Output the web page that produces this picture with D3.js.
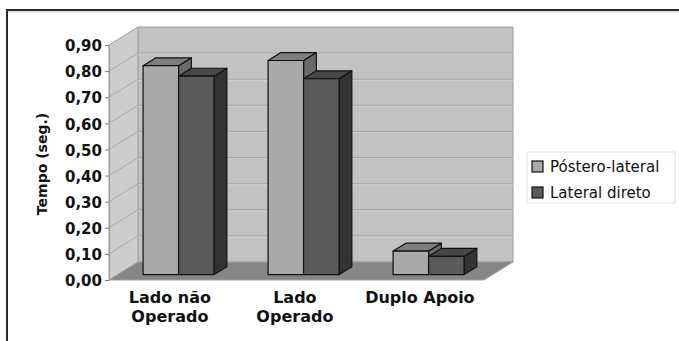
<!DOCTYPE html>
<html>
<head>
<meta charset="utf-8">
<script src="https://cdn.jsdelivr.net/npm/d3@7"></script>
<style>
  html, body { margin: 0; padding: 0; background: #fff; }
  svg { display: block; }
</style>
</head>
<body>
<svg id="chart" width="679" height="341"></svg>
<script>
// Gait timing per side, two surgical approaches
const categories = ["Lado não Operado", "Lado Operado", "Duplo Apoio"];
const categoryLines = [["Lado não", "Operado"], ["Lado", "Operado"], ["Duplo Apoio"]];
const seriesNames = ["Póstero-lateral", "Lateral direto"];
const posteroLateral = [0.80, 0.82, 0.09];
const lateralDireto = [0.76, 0.75, 0.07];
const yTickValues = [0, 0.1, 0.2, 0.3, 0.4, 0.5, 0.6, 0.7, 0.8, 0.9];
const yTitle = "Tempo (seg.)";

const seriesValues = [posteroLateral, lateralDireto];

const svg = d3.select("#chart");

// plot box (front plane) and depth offset of the 3D walls
const plotLeft = 109, plotRight = 484, plotBottom = 280, plotTop = 45;
const depthX = 29, depthY = -18;
// bars sit between these fractions of the depth
const f0 = 0.3, f1 = 0.74;

const x = d3.scaleBand().domain(categories).range([plotLeft, plotRight])
  .paddingInner(0.432).paddingOuter(0.216).align(0.47);
const xs = d3.scaleBand().domain(seriesNames).range([0, x.bandwidth()]);
const y = d3.scaleLinear().domain([0, 0.9]).range([plotBottom, plotTop]);

const barFill = {
  "Póstero-lateral": { front: "#a9a9a9", top: "#7e7e7e", side: "#6a6a6a" },
  "Lateral direto": { front: "#5a5a5a", top: "#474747", side: "#333333" }
};

// outer frame
svg.append("path")
  .attr("d", "M7,341 L7,10 L679,10")
  .attr("fill", "none").attr("stroke", "#2a2a2a").attr("stroke-width", 2);
svg.append("line").attr("x1", 8).attr("x2", 679).attr("y1", 12).attr("y2", 12)
  .attr("stroke", "#e6e6e6").attr("stroke-width", 2);

const pt = (px, py) => `${px},${py}`;

// back wall
svg.append("polygon")
  .attr("points", [pt(plotLeft + depthX, plotTop + depthY), pt(plotRight + depthX, plotTop + depthY),
                   pt(plotRight + depthX, plotBottom + depthY), pt(plotLeft + depthX, plotBottom + depthY)].join(" "))
  .attr("fill", "#c2c2c2").attr("stroke", "#9a9a9a").attr("stroke-width", 1);

// side wall
svg.append("polygon")
  .attr("points", [pt(plotLeft, plotTop), pt(plotLeft + depthX, plotTop + depthY),
                   pt(plotLeft + depthX, plotBottom + depthY), pt(plotLeft, plotBottom)].join(" "))
  .attr("fill", "#cdcdcd").attr("stroke", "#a0a0a0").attr("stroke-width", 1);

// floor
svg.append("polygon")
  .attr("points", [pt(plotLeft, plotBottom), pt(plotLeft + depthX, plotBottom + depthY),
                   pt(plotRight + depthX, plotBottom + depthY), pt(plotRight, plotBottom)].join(" "))
  .attr("fill", "#868686").attr("stroke", "#a0a0a0").attr("stroke-width", 1);

// gridlines on walls
const grid = svg.append("g");
yTickValues.filter(v => v > 0 && v < 0.9).forEach(v => {
  grid.append("path")
    .attr("d", `M${plotLeft},${y(v)} L${plotLeft + depthX},${y(v) + depthY} L${plotRight + depthX},${y(v) + depthY}`)
    .attr("fill", "none").attr("stroke", "#a6a6a6").attr("stroke-width", 1);
  grid.append("path")
    .attr("d", `M${plotLeft + depthX},${y(v) + depthY + 1.2} L${plotRight + depthX},${y(v) + depthY + 1.2}`)
    .attr("fill", "none").attr("stroke", "#cfcfcf").attr("stroke-width", 1);
});

// bars
const bars = svg.append("g");
categories.forEach((c, i) => {
  seriesNames.forEach((s, j) => {
    const v = seriesValues[j][i];
    const col = barFill[s];
    const x0 = x(c) + xs(s) + f0 * depthX;
    const x1 = x0 + xs.bandwidth();
    const yb = y(0) + f0 * depthY;
    const yt = y(v) + f0 * depthY;
    const ddx = (f1 - f0) * depthX, ddy = (f1 - f0) * depthY;
    const g = bars.append("g").attr("stroke", "#111").attr("stroke-width", 1.2)
      .attr("stroke-linejoin", "round");
    g.append("polygon")
      .attr("points", [pt(x1, yt), pt(x1 + ddx, yt + ddy), pt(x1 + ddx, yb + ddy), pt(x1, yb)].join(" "))
      .attr("fill", col.side);
    g.append("polygon")
      .attr("points", [pt(x0, yt), pt(x0 + ddx, yt + ddy), pt(x1 + ddx, yt + ddy), pt(x1, yt)].join(" "))
      .attr("fill", col.top);
    g.append("rect")
      .attr("x", x0).attr("y", yt).attr("width", x1 - x0).attr("height", yb - yt)
      .attr("fill", col.front);
  });
});

// y axis
const fmt = d => d3.format(".2f")(d).replace(".", ",");
const yAxis = svg.append("g")
  .attr("transform", `translate(${plotLeft},0)`)
  .call(d3.axisLeft(y).tickValues(yTickValues).tickFormat(fmt).tickSize(4).tickPadding(3));
yAxis.select(".domain").attr("stroke", "#9a9a9a");
yAxis.selectAll(".tick line").attr("stroke", "#777");
yAxis.selectAll(".tick text")
  .attr("font-family", "DejaVu Sans, Verdana, sans-serif")
  .attr("font-weight", "bold").attr("font-size", 15)
  .attr("fill", "#111").attr("dy", "0.38em");

// y title
svg.append("text")
  .attr("transform", "translate(47,164) rotate(-90)")
  .attr("text-anchor", "middle")
  .attr("font-family", "DejaVu Sans, Verdana, sans-serif")
  .attr("font-weight", "bold").attr("font-size", 14).attr("fill", "#111")
  .text(yTitle);

// category labels
const catLabels = svg.append("g")
  .attr("font-family", "DejaVu Sans, Verdana, sans-serif")
  .attr("font-weight", "bold").attr("font-size", 16).attr("fill", "#111")
  .attr("text-anchor", "middle");
categories.forEach((c, i) => {
  const cx = x(c) + x.bandwidth() / 2;
  categoryLines[i].forEach((line, k) => {
    catLabels.append("text")
      .attr("x", cx).attr("y", 303 + k * 19)
      .text(line);
  });
});

// legend
const legend = svg.append("g");
legend.append("rect")
  .attr("x", 527).attr("y", 152).attr("width", 148).attr("height", 51)
  .attr("fill", "#fff").attr("stroke", "#e2e2e2").attr("stroke-width", 1);
seriesNames.forEach((s, j) => {
  const ly = 161 + j * 26;
  legend.append("rect")
    .attr("x", 532).attr("y", ly).attr("width", 11).attr("height", 11)
    .attr("fill", barFill[s].front).attr("stroke", "#111").attr("stroke-width", 1.2);
  legend.append("text")
    .attr("x", 550).attr("y", ly + 11)
    .attr("font-family", "DejaVu Sans, Verdana, sans-serif")
    .attr("font-size", 15).attr("fill", "#111")
    .text(s);
});
</script>
</body>
</html>
